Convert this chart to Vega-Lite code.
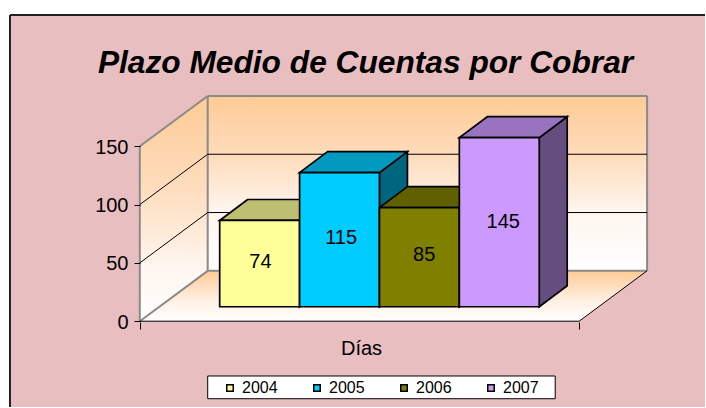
{
"$schema":"https://vega.github.io/schema/vega-lite/v6.json",
"width":706,"height":408,
"autosize":{"type":"fit","contains":"padding"},
"padding":0,
"background":"white",
"view":{"stroke":null},
"title":{"text":"Plazo Medio de Cuentas por Cobrar","font":"Liberation Sans","fontSize":31.7,"fontWeight":"bold","fontStyle":"italic","color":"black","anchor":"middle","frame":"group","dx":13,"offset":-80},
"config":{"axis":{"grid":false}},
"datasets":{
"panel":[{"x":-2.625,"x2":6.075,"y":-73.6,"y2":262.7}],
"borde":[{"x":-2.625,"x2":6.075,"y":262.7,"y2":262.7},{"x":-2.625,"x2":-2.625,"y":-73.6,"y2":262.7}],
"cajaLeyenda":[{"x":-0.15,"x2":4.2,"y":-47,"y2":-66.5}],
"paredFondo":[{"x":-0.15,"x2":5.35,"y":43.2,"y2":193.2}],
"paredIzq":[{"x":-1,"y":150,"y2":0},{"x":-0.15,"y":193.2,"y2":43.2}],
"piso":[{"y":43.2,"x":-0.15,"x2":5.35},{"y":0,"x":-1,"x2":4.5}],
"gris":[
{"x":-1,"x2":-1,"y":0,"y2":150},
{"x":-0.15,"x2":-0.15,"y":43.2,"y2":193.2},
{"x":5.35,"x2":5.35,"y":43.2,"y2":193.2},
{"x":-0.15,"x2":5.35,"y":193.2,"y2":193.2},
{"x":-0.15,"x2":5.35,"y":43.2,"y2":43.2},
{"x":-1,"x2":-0.15,"y":150,"y2":193.2},
{"x":-1,"x2":-0.15,"y":0,"y2":43.2}],
"negro":[
{"x":-0.15,"x2":5.35,"y":93.2,"y2":93.2},
{"x":-0.15,"x2":5.35,"y":143.2,"y2":143.2},
{"x":-1,"x2":-0.15,"y":50,"y2":93.2},
{"x":-1,"x2":-0.15,"y":100,"y2":143.2},
{"x":-1,"x2":4.5,"y":0,"y2":0},
{"x":4.5,"x2":5.35,"y":0,"y2":43.2}],
"barras":[
{"anio":"2004","inicio":0,"fin":1,"dias":74,"cx":0.51,"cy":37},
{"anio":"2005","inicio":1,"fin":2,"dias":115,"cx":1.52,"cy":57.5},
{"anio":"2006","inicio":2,"fin":3,"dias":85,"cx":2.56,"cy":42.5},
{"anio":"2007","inicio":3,"fin":4,"dias":145,"cx":3.55,"cy":71}],
"lados":[
{"anio":"2004","x":1,"y":0,"y2":74},{"anio":"2004","x":1.35,"y":18,"y2":92},
{"anio":"2005","x":2,"y":0,"y2":115},{"anio":"2005","x":2.35,"y":18,"y2":133},
{"anio":"2006","x":3,"y":0,"y2":85},{"anio":"2006","x":3.35,"y":18,"y2":103},
{"anio":"2007","x":4,"y":0,"y2":145},{"anio":"2007","x":4.35,"y":18,"y2":163}],
"tapas":[
{"anio":"2004","y":74,"x":0,"x2":1},{"anio":"2004","y":92,"x":0.35,"x2":1.35},
{"anio":"2005","y":115,"x":1,"x2":2},{"anio":"2005","y":133,"x":1.35,"x2":2.35},
{"anio":"2006","y":85,"x":2,"x2":3},{"anio":"2006","y":103,"x":2.35,"x2":3.35},
{"anio":"2007","y":145,"x":3,"x2":4},{"anio":"2007","y":163,"x":3.35,"x2":4.35}]
},
"resolve":{"scale":{"y":"independent","color":"independent"}},
"layer":[
{"data":{"name":"panel"},"mark":{"type":"rect","fill":"#e9bec1"},
 "encoding":{"x":{"field":"x","type":"quantitative","scale":{"domain":[-2.75,6.075],"nice":false,"zero":false},"axis":{"values":[-1,4.5],"labels":false,"domain":false,"zindex":1,"tickSize":7,"tickColor":"black","offset":-85,"title":"Días","titleFont":"Liberation Sans","titleFontSize":20,"titleFontWeight":"normal","titleColor":"black","titleX":361,"titleY":16}},"x2":{"field":"x2"},
 "y":{"field":"y","type":"quantitative","scale":{"domain":[-73.6,275.5],"nice":false,"zero":false},"axis":{"values":[0,50,100,150],"offset":-140,"domain":false,"zindex":1,"tickSize":6,"tickColor":"black","labelFont":"Liberation Sans","labelFontSize":20,"labelColor":"black","labelPadding":6,"labelOffset":1,"title":null}},"y2":{"field":"y2"}}},
{"data":{"name":"borde"},"mark":{"type":"rule","color":"#222222","strokeWidth":2},
 "encoding":{"x":{"field":"x","type":"quantitative"},"x2":{"field":"x2"},"y":{"field":"y","type":"quantitative","scale":{"domain":[-73.6,275.5],"nice":false,"zero":false},"axis":null},"y2":{"field":"y2"}}},
{"data":{"name":"cajaLeyenda"},"mark":{"type":"rect","fill":"white","stroke":"black","strokeWidth":1},
 "encoding":{"x":{"field":"x","type":"quantitative"},"x2":{"field":"x2"},"y":{"field":"y","type":"quantitative","scale":{"domain":[-73.6,275.5],"nice":false,"zero":false},"axis":null},"y2":{"field":"y2"}}},
{"data":{"name":"paredFondo"},"mark":{"type":"rect","fill":{"gradient":"linear","x1":0,"y1":0,"x2":0,"y2":1,"stops":[{"offset":0,"color":"#fecb96"},{"offset":0.35,"color":"#fedcbc"},{"offset":0.65,"color":"#fff5ee"},{"offset":1,"color":"#ffffff"}]}},
 "encoding":{"x":{"field":"x","type":"quantitative"},"x2":{"field":"x2"},"y":{"field":"y","type":"quantitative","scale":{"domain":[-73.6,275.5],"nice":false,"zero":false},"axis":null},"y2":{"field":"y2"}}},
{"data":{"name":"paredIzq"},"mark":{"type":"area","fill":{"gradient":"linear","x1":0,"y1":0,"x2":0,"y2":1,"stops":[{"offset":0,"color":"#fecb96"},{"offset":0.4,"color":"#fedcbc"},{"offset":0.75,"color":"#fff5ee"},{"offset":1,"color":"#ffffff"}]}},
 "encoding":{"x":{"field":"x","type":"quantitative"},"y":{"field":"y","type":"quantitative","scale":{"domain":[-73.6,275.5],"nice":false,"zero":false},"axis":null},"y2":{"field":"y2"}}},
{"data":{"name":"piso"},"mark":{"type":"area","orient":"horizontal","fill":{"gradient":"linear","x1":0,"y1":0,"x2":0,"y2":1,"stops":[{"offset":0,"color":"#fecb96"},{"offset":0.6,"color":"#fff0e4"},{"offset":1,"color":"#ffffff"}]}},
 "encoding":{"y":{"field":"y","type":"quantitative","scale":{"domain":[-73.6,275.5],"nice":false,"zero":false},"axis":null},"x":{"field":"x","type":"quantitative"},"x2":{"field":"x2"}}},
{"data":{"name":"gris"},"mark":{"type":"rule","color":"#8a8a8a","strokeWidth":2},
 "encoding":{"x":{"field":"x","type":"quantitative"},"x2":{"field":"x2"},"y":{"field":"y","type":"quantitative","scale":{"domain":[-73.6,275.5],"nice":false,"zero":false},"axis":null},"y2":{"field":"y2"}}},
{"data":{"name":"negro"},"mark":{"type":"rule","color":"black","strokeWidth":1},
 "encoding":{"x":{"field":"x","type":"quantitative"},"x2":{"field":"x2"},"y":{"field":"y","type":"quantitative","scale":{"domain":[-73.6,275.5],"nice":false,"zero":false},"axis":null},"y2":{"field":"y2"}}},
{"data":{"name":"lados"},"mark":{"type":"area","stroke":"black","strokeWidth":1.7},
 "encoding":{"x":{"field":"x","type":"quantitative"},"y":{"field":"y","type":"quantitative","scale":{"domain":[-86,263.1],"nice":false,"zero":false},"axis":null},"y2":{"field":"y2"},"color":{"field":"anio","type":"nominal","legend":null,"scale":{"domain":["2004","2005","2006","2007"],"range":["#80804d","#006680","#404000","#664d80"]}}}},
{"data":{"name":"tapas"},"mark":{"type":"area","orient":"horizontal","stroke":"black","strokeWidth":1.7},
 "encoding":{"y":{"field":"y","type":"quantitative","scale":{"domain":[-86,263.1],"nice":false,"zero":false},"axis":null},"x":{"field":"x","type":"quantitative"},"x2":{"field":"x2"},"color":{"field":"anio","type":"nominal","legend":null,"scale":{"domain":["2004","2005","2006","2007"],"range":["#bfbf73","#0099bf","#606000","#9973bf"]}}}},
{"data":{"name":"barras"},"mark":{"type":"rect","stroke":"black","strokeWidth":1.7},
 "encoding":{"x":{"field":"inicio","type":"quantitative"},"x2":{"field":"fin"},"y":{"field":"dias","type":"quantitative","scale":{"domain":[-86,263.1],"nice":false,"zero":false},"axis":null},"y2":{"datum":0},
 "color":{"field":"anio","type":"nominal","scale":{"domain":["2004","2005","2006","2007"],"range":["#ffff99","#00ccff","#808000","#cc99ff"]},
 "legend":{"orient":"none","legendX":219,"legendY":377,"direction":"horizontal","columns":4,"title":null,"padding":3,"symbolType":"square","symbolSize":42,"symbolStrokeColor":"black","symbolStrokeWidth":1.5,"labelFont":"Liberation Sans","labelFontSize":16,"labelColor":"black","columnPadding":31,"labelOffset":4}}}},
{"data":{"name":"barras"},"mark":{"type":"text","font":"Liberation Sans","fontSize":20,"color":"black","dy":-2},
 "encoding":{"x":{"field":"cx","type":"quantitative"},"y":{"field":"cy","type":"quantitative","scale":{"domain":[-86,263.1],"nice":false,"zero":false},"axis":null},"text":{"field":"dias","type":"quantitative"}}}
]
}
